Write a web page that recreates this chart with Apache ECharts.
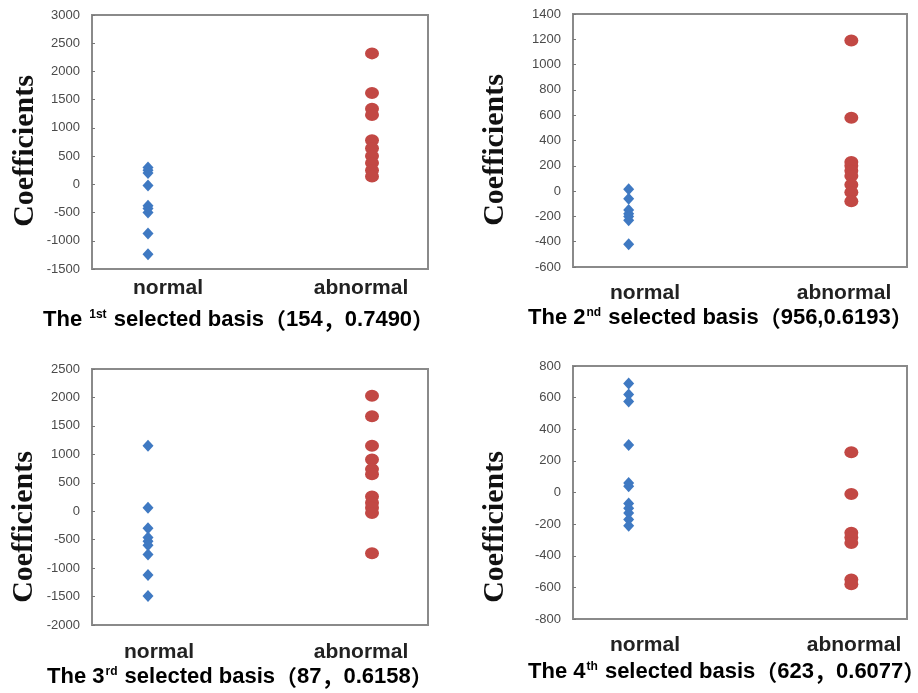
<!DOCTYPE html>
<html><head><meta charset="utf-8">
<script src="https://cdn.jsdelivr.net/npm/echarts@6/dist/echarts.min.js"></script>
<style>html,body{margin:0;padding:0;background:#fff}#c{width:918px;height:693px}</style>
</head><body><div id="c"></div>
<script>
// ---- data ----
const groupNames = ['normal', 'abnormal'];
const yAxisTitle = 'Coefficients';
const ordinals = ['1', '2', '3', '4'];
const ordinalSuffix = ['st', 'nd', 'rd', 'th'];
const basisInfo = ['（154，0.7490）', '（956,0.6193）', '（87，0.6158）', '（623，0.6077）'];

const p1Normal = [300, 250, 200, -20, -380, -430, -500, -870, -1240];
const p1Abnormal = [2320, 1620, 1340, 1230, 780, 640, 500, 380, 250, 140];
const p2Normal = [15, -60, -150, -180, -200, -230, -420];
const p2Abnormal = [1190, 580, 230, 200, 160, 120, 50, -10, -80];
const p3Normal = [1150, 60, -300, -460, -530, -600, -760, -1120, -1490];
const p3Abnormal = [2030, 1670, 1150, 910, 740, 650, 260, 150, 60, -30, -740];
const p4Normal = [690, 620, 575, 300, 60, 40, -70, -100, -130, -170, -210];
const p4Abnormal = [255, -10, -255, -285, -320, -550, -580];

const yMins = [-1500, -600, -2000, -800];
const yMaxs = [3000, 1400, 2500, 800];
const yIntervals = [500, 200, 500, 200];

// ---- layout ----
const grids = [
  {left: 92, top: 15, width: 336, height: 254},
  {left: 573, top: 14, width: 334, height: 253},
  {left: 92, top: 369, width: 336, height: 256},
  {left: 573, top: 366, width: 334, height: 253}
];
const normalPos = 1, abnormalPos = 5; // positions on hidden x scale 0..6
const yTitlePos = [[25, 151], [495, 150], [24, 527], [495, 527]];
const groupLabelPos = [
  [[168, 288], [361, 288]],
  [[645, 293], [844, 293]],
  [[159, 652], [361, 652]],
  [[645, 645], [854, 645]]
];
const titlePos = [[43, 320], [528, 318], [47, 677], [528, 672]];

const normals = [p1Normal, p2Normal, p3Normal, p4Normal];
const abnormals = [p1Abnormal, p2Abnormal, p3Abnormal, p4Abnormal];

const BLUE = '#3f79c2', RED = '#c24844';
const sans = 'Arial, "Liberation Sans", "Noto Sans CJK SC", sans-serif';
const cjk = '"Noto Sans CJK SC", sans-serif';

function buildTitle(i) {
  let t = '{a|The ' + (i === 0 ? '' : ordinals[i]) + '}';
  t += '{s|' + (i === 0 ? ordinals[i] : '') + ordinalSuffix[i] + '}';
  t += '{a| selected basis}';
  const parts = basisInfo[i].match(/[（），]|[^（），]+/g);
  parts.forEach(p => {
    t += /[（），]/.test(p) ? '{p|' + p + '}' : '{a|' + p + '}';
  });
  return t;
}

const option = {
  animation: false,
  backgroundColor: '#fff',
  grid: grids.map(g => Object.assign({show: true, borderColor: '#8a8a8a', borderWidth: 2, backgroundColor: '#fff'}, g)),
  xAxis: grids.map((g, i) => ({
    type: 'value', gridIndex: i, min: 0, max: 6, show: false, splitLine: {show: false}
  })),
  yAxis: grids.map((g, i) => ({
    type: 'value', gridIndex: i, min: yMins[i], max: yMaxs[i], interval: yIntervals[i],
    splitLine: {show: false},
    axisLine: {show: true, lineStyle: {color: '#8a8a8a', width: 2}},
    axisTick: {show: true, inside: true, length: 3, lineStyle: {color: '#777', width: 1}},
    axisLabel: {color: '#4a4a4a', fontSize: 13, fontFamily: sans, margin: 12, formatter: v => String(v)}
  })),
  series: [],
  graphic: []
};

for (let i = 0; i < 4; i++) {
  option.series.push({
    type: 'scatter', xAxisIndex: i, yAxisIndex: i,
    symbol: 'diamond', symbolSize: [11, 12],
    itemStyle: {color: BLUE, opacity: 1},
    data: normals[i].map(v => [normalPos, v])
  });
  option.series.push({
    type: 'scatter', xAxisIndex: i, yAxisIndex: i,
    symbol: 'circle', symbolSize: [14, 12],
    itemStyle: {color: RED, opacity: 1},
    data: abnormals[i].map(v => [abnormalPos, v])
  });
  option.graphic.push({
    type: 'text', x: yTitlePos[i][0], y: yTitlePos[i][1], rotation: Math.PI / 2,
    style: {text: yAxisTitle, fill: '#111', font: 'bold 30px "Times New Roman", "Liberation Serif", serif',
      align: 'center', verticalAlign: 'middle'}
  });
  for (let k = 0; k < 2; k++) {
    option.graphic.push({
      type: 'text', x: groupLabelPos[i][k][0], y: groupLabelPos[i][k][1],
      style: {text: groupNames[k], fill: '#222', font: 'bold 21px ' + sans,
        align: 'center', verticalAlign: 'middle'}
    });
  }
  option.graphic.push({
    type: 'text', x: titlePos[i][0], y: titlePos[i][1],
    style: {
      text: buildTitle(i),
      align: 'left', verticalAlign: 'middle',
      rich: {
        a: {fontSize: 22, fontWeight: 'bold', fontFamily: sans, color: '#222'},
        p: {fontSize: 22, fontWeight: 'bold', fontFamily: cjk, color: '#222'},
        s: {fontSize: 12, fontWeight: 'bold', fontFamily: sans, color: '#222', padding: [0, 1, 10, 1]}
      }
    }
  });
}

const chart = echarts.init(document.getElementById('c'), null, {renderer: 'canvas'});
chart.setOption(option);
</script>
</body></html>
